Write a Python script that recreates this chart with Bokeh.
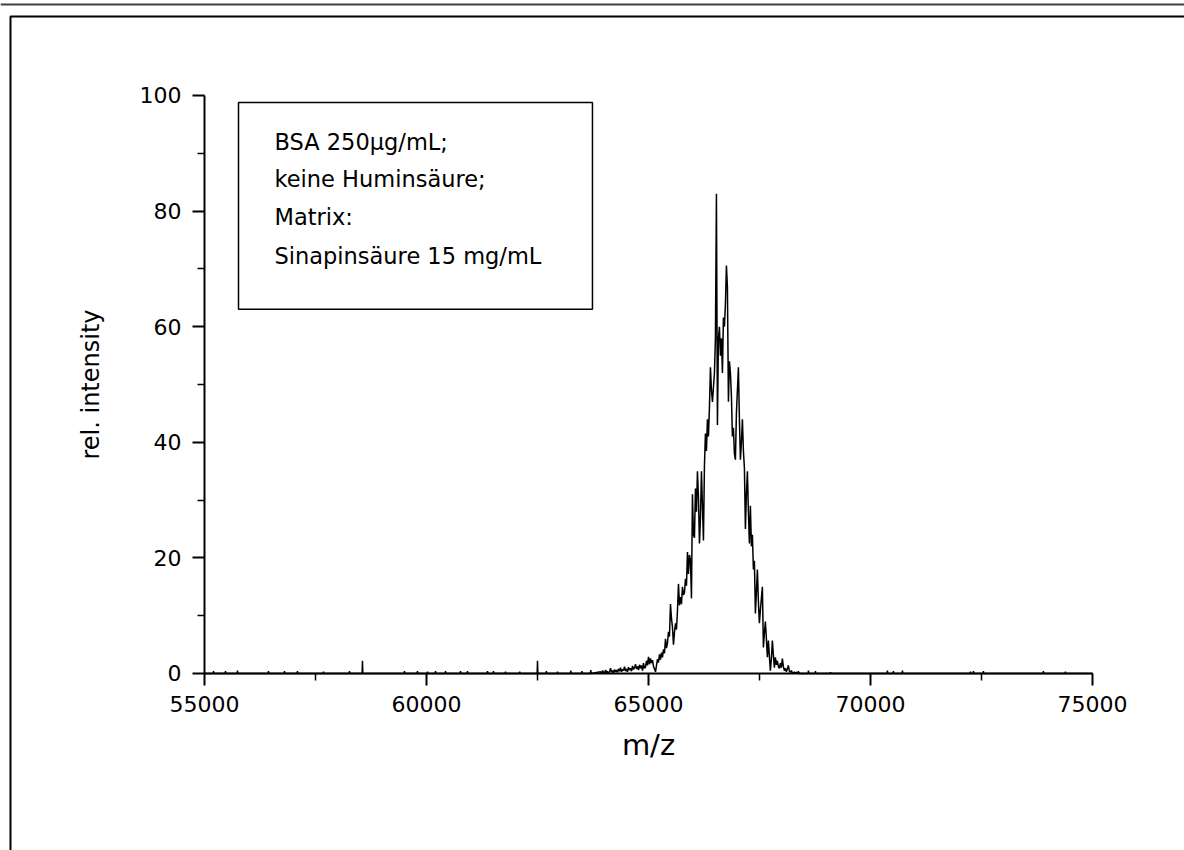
import numpy as np
from bokeh.plotting import figure
from bokeh.models import Range1d, FixedTicker, BoxAnnotation, Label, ColumnDataSource
from bokeh.embed import file_html
from bokeh.resources import INLINE

# ---------------- data ----------------
# main BSA peak: m/z grid start and spacing, intensities read point by point
peak_start = 63920.0
peak_step = 22.5
peak_intensity = [
    0.3, 0.0, 0.5, 0.2, 0.0, 0.6, 0.1, 0.4, 0.0, 0.3,
    0.9, 0.2, 0.5, 0.1, 0.7, 0.3, 0.6, 0.2, 0.8, 0.4,
    1.0, 0.3, 0.7, 0.5, 1.2, 0.4, 0.8, 0.3, 1.1, 0.6,
    0.9, 0.4, 1.3, 0.7, 1.0, 1.6, 0.8, 1.2, 0.6, 1.5,
    0.9, 1.4, 0.5, 1.8, 0.9, 1.1, 2.2, 1.4, 2.9, 1.6,
    2.6, 1.8, 2.3, 1.2, 0.8, 0.3, 1.4, 2.5, 1.9, 3.3,
    2.4, 3.6, 2.8, 4.2, 3.5, 6.0, 4.4, 5.3, 7.2, 6.4,
    12.0, 9.5, 8.0, 5.0, 7.1, 8.7, 7.6, 10.8, 15.5, 11.8,
    13.2, 12.0, 15.0, 13.6, 14.0, 16.4, 15.2, 21.0, 17.2, 20.5,
    19.6, 13.0, 31.0, 24.0, 23.5, 32.0, 28.0, 35.0, 30.5, 22.5,
    27.0, 35.0, 29.0, 23.0, 36.0, 41.5, 38.5, 44.0, 41.0, 46.0,
    53.0, 49.0, 47.0, 49.5, 52.0, 58.0, 83.0, 43.0, 58.0, 60.0,
    55.0, 58.0, 52.0, 61.6, 60.0, 64.0, 70.6, 66.8, 47.0, 54.0,
    52.0, 48.0, 41.0, 42.5, 38.0, 37.0, 45.0, 49.0, 53.0, 44.0,
    37.0, 40.0, 44.0, 38.5, 35.6, 25.0, 31.0, 35.0, 28.0, 22.5,
    29.0, 22.0, 24.0, 18.0, 19.5, 10.4, 14.0, 18.0, 12.5, 8.7,
    11.0, 13.0, 15.0, 4.5, 7.0, 9.0, 6.0, 2.8, 5.7, 3.0,
    0.5, 2.5, 5.7, 3.2, 1.0, 2.8, 1.5, 2.2, 1.2, 0.9,
    1.8, 1.0, 2.6, 1.2, 0.5, 0.9, 0.3, 0.8, 1.4, 0.4,
    0.2, 0.5, 0.1, 0.0, 0.3, 0.0, 0.2, 0.0, 0.4, 0.0,
    0.0,
]

# isolated small spikes on the flat baseline
spike_mz = [55203, 55473, 55743, 56441, 56802, 57094, 57680, 58265, 58558,
            59504, 59797, 60022, 60203, 60428, 60766, 60923, 61374, 61509,
            61780, 62100, 62500, 62700, 62950, 63250, 63500, 63700,
            68602, 68760, 69098, 70381, 70516, 70719, 72250, 72318, 72543,
            73894, 74390]
spike_int = [0.4, 0.4, 0.5, 0.4, 0.4, 0.4, 0.3, 0.4, 2.2,
             0.4, 0.4, 0.3, 0.4, 0.4, 0.4, 0.4, 0.4, 0.4,
             0.3, 0.3, 2.2, 0.4, 0.3, 0.5, 0.4, 0.6,
             0.5, 0.4, 0.2, 0.5, 0.4, 0.5, 0.3, 0.4, 0.4,
             0.4, 0.3]

x_ticks = [55000, 60000, 65000, 70000, 75000]
x_minor = [57500, 62500, 67500, 72500]
y_ticks = [0, 20, 40, 60, 80, 100]
y_minor = [10, 30, 50, 70, 90]

legend_lines = ["BSA 250\u00b5g/mL;", "keine Humins\u00e4ure;", "Matrix:",
                "Sinapins\u00e4ure 15 mg/mL"]

# ---------------- assemble the spectrum ----------------
peak_mz = peak_start + peak_step * np.arange(len(peak_intensity))
xs = [55000.0]
ys = [0.0]
for m, h in zip(spike_mz, spike_int):
    if m < peak_mz[0]:
        xs += [m - 8, m, m + 8]
        ys += [0.0, h, 0.0]
xs += list(peak_mz)
ys += list(peak_intensity)
for m, h in zip(spike_mz, spike_int):
    if m > peak_mz[-1]:
        xs += [m - 8, m, m + 8]
        ys += [0.0, h, 0.0]
xs.append(75000.0)
ys.append(0.0)
src = ColumnDataSource(dict(mz=xs, inten=ys))

FONT = "DejaVu Sans"

# the frame covers the whole canvas; the axes sit inside it at fixed locations
p = figure(width=1184, height=850, min_border=0,
           x_range=Range1d(50405.41, 77072.07), y_range=Range1d(-30.623, 116.436),
           output_backend="svg", toolbar_location=None)
p.title.visible = False
p.outline_line_color = None
p.grid.visible = False
p.background_fill_color = "white"
p.border_fill_color = "white"

p.line("mz", "inten", source=src, line_color="black", line_width=1.5)

p.xaxis.ticker = FixedTicker(ticks=x_ticks, minor_ticks=x_minor)
p.yaxis.ticker = FixedTicker(ticks=y_ticks, minor_ticks=y_minor)
p.xaxis.bounds = (55000, 75000)
p.yaxis.bounds = (0, 100)
p.xaxis.fixed_location = 0
p.yaxis.fixed_location = 55000
for ax in (p.xaxis, p.yaxis):
    ax.axis_line_width = 2
    ax.axis_line_color = "black"
    ax.major_tick_line_width = 2
    ax.major_tick_line_color = "black"
    ax.minor_tick_line_width = 1.5
    ax.minor_tick_line_color = "black"
    ax.major_tick_out = 12
    ax.major_tick_in = 0
    ax.minor_tick_out = 7
    ax.minor_tick_in = 0
    ax.major_label_text_font = FONT
    ax.major_label_text_font_size = "22px"
    ax.major_label_text_color = "black"
    ax.axis_label_text_font = FONT
    ax.axis_label_text_font_style = "normal"
    ax.axis_label_text_color = "black"
    ax.major_label_standoff = 11

p.xaxis.axis_label = "m/z"
p.yaxis.axis_label = "rel. intensity"
p.xaxis.axis_label_text_font_size = "29px"
p.yaxis.axis_label_text_font_size = "24px"
p.xaxis.axis_label_standoff = 12
p.yaxis.axis_label_standoff = 32
p.xaxis.formatter.use_scientific = False

# legend-like text box
p.add_layout(BoxAnnotation(left=55766, right=63738, top=98.8, bottom=63.0,
                           fill_alpha=0, line_color="black", line_alpha=1,
                           line_width=1.5))
for txt, yy in zip(legend_lines, [91.9, 85.6, 78.9, 72.3]):
    p.add_layout(Label(x=56576, y=yy, text=txt, text_font=FONT,
                       text_font_size="22.5px", text_baseline="middle",
                       text_color="black"))

# page frame lines
p.add_layout(BoxAnnotation(left=10, right=3000, top=16, bottom=3000,
                           left_units="canvas", right_units="canvas",
                           top_units="canvas", bottom_units="canvas",
                           fill_alpha=0, line_color="black", line_alpha=1,
                           line_width=2))
p.add_layout(BoxAnnotation(left=0, right=3000, top=3, bottom=5,
                           left_units="canvas", right_units="canvas",
                           top_units="canvas", bottom_units="canvas",
                           fill_color="#404040", fill_alpha=1, line_alpha=0))

open("out.html", "w").write(file_html(p, INLINE))
